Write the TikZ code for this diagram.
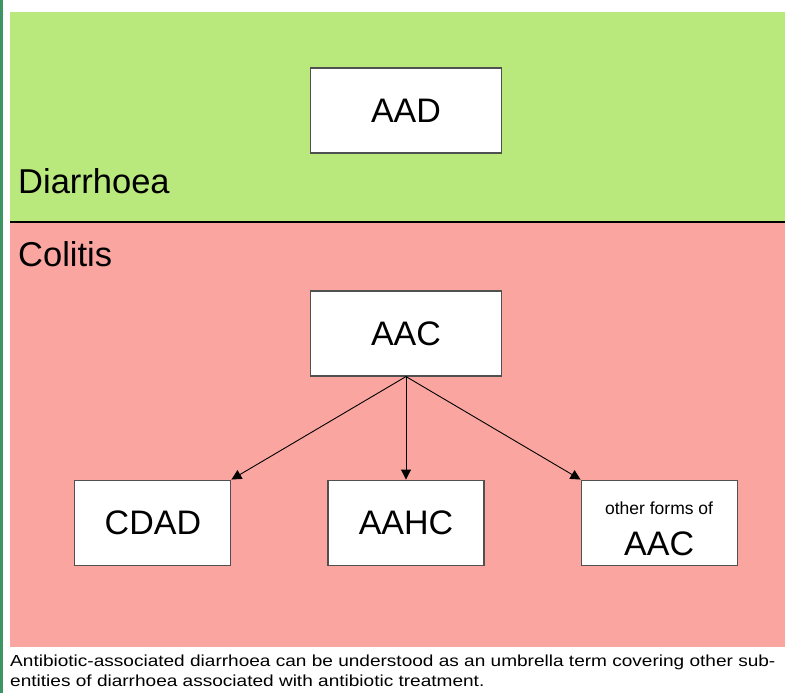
\documentclass[tikz,border=0pt]{standalone}
\usepackage{fontspec}
\setmainfont{Liberation Sans}
\usepackage{tikz}
\usetikzlibrary{arrows.meta,positioning}
\definecolor{zonegreen}{RGB}{185,232,125}
\definecolor{zonepink}{RGB}{250,165,160}
\definecolor{edgegreen}{RGB}{60,150,100}
\definecolor{boxgray}{RGB}{80,80,80}
\tikzstyle{term} = [rectangle, minimum width=191pt, minimum height=85pt, text centered, draw=boxgray, fill=white, line width=1.1pt, inner sep=0pt, font=\fontsize{34}{40}\selectfont]
\tikzstyle{subterm} = [term, minimum width=156pt]
\tikzstyle{zonelabel} = [anchor=base west, inner sep=0pt, font=\fontsize{34.5}{40}\selectfont]
\tikzstyle{arrow} = [line width=0.9pt, -{Triangle[length=10pt,width=10pt]}, color=black]

\begin{document}
\begin{tikzpicture}[x=1pt, y=-1pt]
\useasboundingbox (0,0) rectangle (785,693);
% Zones
\fill[zonegreen] (10,12) rectangle (785,222);
\fill[zonepink] (10,222) rectangle (785,646.5);
\draw[line width=1.2pt] (10,222) -- (785,222);
\fill[edgegreen] (0,0) rectangle (3,693);

% Zone labels
\node (diarrhoea) [zonelabel] at (18,193) {Diarrhoea};
\node (colitis) [zonelabel] at (18,266) {Colitis};

% Term nodes
\node (aad) [term] at (406,110.5) {AAD};
\node (aac) [term] at (406,333.5) {AAC};
\node (aahc) [subterm, below=103pt of aac] {AAHC};
\node (cdad) [subterm, left=96pt of aahc] {CDAD};
\node (otheraac) [subterm, right=96pt of aahc, align=center] {{\fontsize{17.5}{20}\selectfont\rule{0pt}{26pt}other forms of}\\[1pt]AAC};

% Arrows
\draw[arrow] (aac.south) -- (cdad.north east);
\draw[arrow] (aac.south) -- (aahc.north);
\draw[arrow] (aac.south) -- (otheraac.north west);

% Caption
\node (caption) [anchor=north west, inner sep=0pt, align=left, xscale=1.19, transform shape, font=\fontsize{16}{20}\selectfont] at (10,655) {Antibiotic-associated diarrhoea can be understood as an umbrella term covering other sub-\\entities of diarrhoea associated with antibiotic treatment.};
\end{tikzpicture}
\end{document}
